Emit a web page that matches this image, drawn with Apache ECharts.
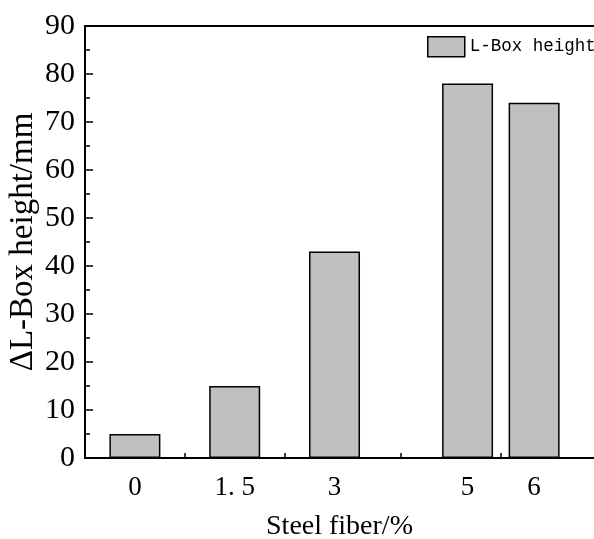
<!DOCTYPE html>
<html><head><meta charset="utf-8">
<script src="https://cdn.jsdelivr.net/npm/echarts@6/dist/echarts.min.js"></script>
<style>html,body{margin:0;padding:0;background:#fff}#c{width:594px;height:539px}</style>
</head><body><div id="c"></div>
<script>
const xValues = [0, 1.5, 3, 5, 6];
const xTickLabels = ['0', '1. 5', '3', '5', '6'];
const xMinorTicks = [0.75, 2.25, 4, 5.5];
const heights = [5, 15, 43, 78, 74];
const seriesName = 'L-Box height';

const chart = echarts.init(document.getElementById('c'), null, {renderer: 'canvas'});
const labelMap = {};
xValues.forEach((v, i) => labelMap[v] = xTickLabels[i]);
const serif = '"Liberation Serif", "Times New Roman", serif';
chart.setOption({
  animation: false,
  grid: {left: 85, top: 26, right: 0, bottom: 81, containLabel: false, outerBoundsMode: 'none'},
  legend: {
    data: [seriesName], left: 422, top: 31, itemWidth: 37, itemHeight: 20, itemGap: 7, icon: 'rect',
    textStyle: {fontFamily: '"Liberation Mono", monospace', fontSize: 17.5, color: '#000'},
    itemStyle: {borderColor: '#000', borderWidth: 1.5}
  },
  xAxis: [{
    type: 'value', min: -0.75, max: 6.9, position: 'bottom',
    name: 'Steel fiber/%', nameLocation: 'middle', nameGap: 55, nameMoveOverlap: false,
    nameTextStyle: {fontFamily: serif, fontSize: 28, color: '#000'},
    axisLine: {show: true, onZero: false, lineStyle: {color: '#000', width: 2}},
    axisTick: {show: true, inside: true, length: 9, customValues: xValues, lineStyle: {color: '#000', width: 1.5}},
    axisLabel: {show: true, customValues: xValues, margin: 16, fontFamily: serif, fontSize: 27, color: '#000',
      formatter: v => labelMap[v] !== undefined ? labelMap[v] : ''},
    splitLine: {show: false}
  }, {
    type: 'value', min: -0.75, max: 6.9, position: 'bottom',
    axisLine: {show: false, onZero: false},
    axisTick: {show: true, inside: true, length: 5, customValues: xMinorTicks, lineStyle: {color: '#000', width: 1.5}},
    axisLabel: {show: false}, splitLine: {show: false}
  }, {
    type: 'value', min: -0.75, max: 6.9, position: 'top',
    axisLine: {show: true, onZero: false, lineStyle: {color: '#000', width: 2}},
    axisTick: {show: false}, axisLabel: {show: false}, splitLine: {show: false}
  }],
  yAxis: {
    type: 'value', min: 0, max: 90, interval: 10,
    name: 'ΔL-Box height/mm', nameLocation: 'middle', nameGap: 45, nameMoveOverlap: false,
    nameTextStyle: {fontFamily: serif, fontSize: 33, color: '#000'},
    axisLine: {show: true, onZero: false, lineStyle: {color: '#000', width: 2}},
    axisTick: {show: true, inside: true, length: 8, lineStyle: {color: '#000', width: 1.5}},
    minorTick: {show: true, splitNumber: 2, length: 5, lineStyle: {color: '#000', width: 1.5}},
    axisLabel: {margin: 10, fontFamily: serif, fontSize: 30, color: '#000'},
    splitLine: {show: false}
  },
  series: [{
    name: seriesName, type: 'bar', xAxisIndex: 0, barWidth: 51,
    itemStyle: {color: '#c0c0c0', borderColor: '#000', borderWidth: 1.5},
    data: xValues.map((x, i) => [x, heights[i]]), z: 1
  }]
});
</script></body></html>
